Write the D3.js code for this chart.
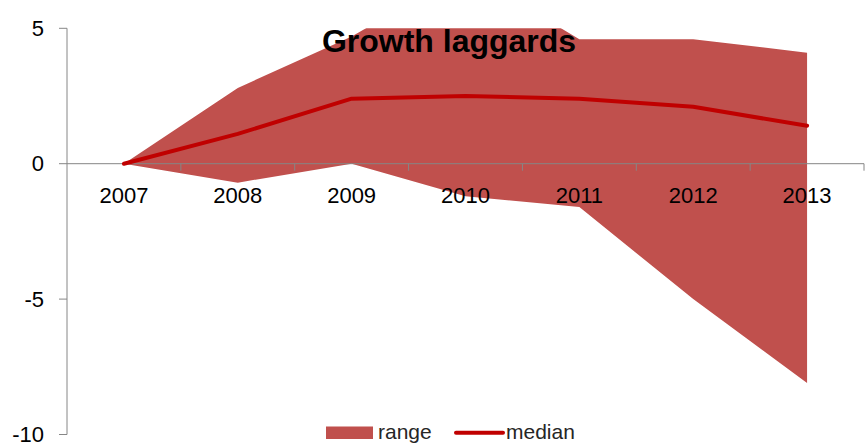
<!DOCTYPE html>
<html>
  <head>
    <script src="https://d3js.org/d3.v7.min.js"></script>
    <style>
      body { margin: 0; background: #fff; }
      text { font-family: "Liberation Sans", Arial, sans-serif; }
    </style>
  </head>
  <body>
    <script type="text/javascript">

    // years on the category axis
    var years = ["2007", "2008", "2009", "2010", "2011", "2012", "2013"];
    // top and bottom of the shaded range (values above 5 get cut by the plot area)
    var rangeHigh = [0, 2.8, 4.7, 7.1, 4.6, 4.6, 4.1];
    var rangeLow = [0, -0.7, 0, -1.2, -1.6, -5.0, -8.1];
    // median line
    var median = [0, 1.1, 2.4, 2.5, 2.4, 2.1, 1.4];
    var yTicks = [5, 0, -5, -10];

    var width = 865, height = 448;
    var axisColor = "#868686";
    var areaColor = "#c0504d";
    var lineColor = "#c00000";

    var svg = d3.select("body").append("svg")
        .attr("width", width)
        .attr("height", height);

    var x = d3.scaleBand().domain(years).range([67, 864]).padding(0);
    var y = d3.scaleLinear().domain([-10, 5]).range([434.5, 28.3]);

    function cx(d) { return x(d) + x.bandwidth() / 2; }

    var rows = years.map(function (yr, i) {
        return { year: yr, hi: rangeHigh[i], lo: rangeLow[i], med: median[i] };
    });

    // plot area clip, excel cuts the area at the top of the axis
    svg.append("clipPath").attr("id", "plotclip")
      .append("rect")
        .attr("x", 67).attr("y", y(5))
        .attr("width", 864 - 67).attr("height", y(-10) - y(5));

    // range band
    var area = d3.area()
        .x(function (d) { return cx(d.year); })
        .y0(function (d) { return y(d.lo); })
        .y1(function (d) { return y(d.hi); });

    svg.append("path")
        .datum(rows)
        .attr("clip-path", "url(#plotclip)")
        .attr("fill", areaColor)
        .attr("d", area);

    // x axis at zero, ticks between categories
    var xAxis = svg.append("g");
    xAxis.append("line")
        .attr("x1", 67).attr("x2", 864)
        .attr("y1", y(0)).attr("y2", y(0))
        .attr("stroke", axisColor);
    xAxis.selectAll(".xt")
        .data(years)
        .enter()
        .append("line")
          .attr("x1", function (d) { return x(d) + x.bandwidth(); })
          .attr("x2", function (d) { return x(d) + x.bandwidth(); })
          .attr("y1", y(0)).attr("y2", y(0) + 7)
          .attr("stroke", axisColor);
    xAxis.selectAll(".xl")
        .data(years)
        .enter()
        .append("text")
          .attr("x", cx)
          .attr("y", 203)
          .attr("text-anchor", "middle")
          .style("font-size", "22px")
          .attr("fill", "#000")
          .text(function (d) { return d; });

    // y axis
    var yAxis = svg.append("g");
    yAxis.append("line")
        .attr("x1", 67).attr("x2", 67)
        .attr("y1", y(5)).attr("y2", y(-10))
        .attr("stroke", axisColor);
    yAxis.selectAll(".yt")
        .data(yTicks)
        .enter()
        .append("line")
          .attr("x1", 59).attr("x2", 67)
          .attr("y1", function (d) { return y(d); })
          .attr("y2", function (d) { return y(d); })
          .attr("stroke", axisColor);
    yAxis.selectAll(".yl")
        .data(yTicks)
        .enter()
        .append("text")
          .attr("x", 44)
          .attr("y", function (d) { return y(d); })
          .attr("dy", "0.35em")
          .attr("text-anchor", "end")
          .style("font-size", "22px")
          .attr("fill", "#000")
          .text(function (d) { return d; });

    // median line
    var line = d3.line()
        .x(function (d) { return cx(d.year); })
        .y(function (d) { return y(d.med); });

    svg.append("path")
        .datum(rows)
        .attr("fill", "none")
        .attr("stroke", lineColor)
        .attr("stroke-width", 4)
        .attr("stroke-linecap", "round")
        .attr("stroke-linejoin", "round")
        .attr("d", line);

    // title sits on top of the area
    svg.append("text")
        .attr("x", 449)
        .attr("y", 52)
        .attr("text-anchor", "middle")
        .style("font-size", "32px")
        .style("font-weight", "bold")
        .attr("fill", "#000")
        .text("Growth laggards");

    // legend
    var legend = svg.append("g");
    legend.append("rect")
        .attr("x", 326).attr("y", 426.5)
        .attr("width", 47).attr("height", 12.5)
        .attr("fill", areaColor);
    legend.append("text")
        .attr("x", 378).attr("y", 439)
        .style("font-size", "21px")
        .attr("fill", "#262626")
        .text("range");
    legend.append("line")
        .attr("x1", 456).attr("x2", 503)
        .attr("y1", 432.7).attr("y2", 432.7)
        .attr("stroke", lineColor)
        .attr("stroke-width", 4)
        .attr("stroke-linecap", "round");
    legend.append("text")
        .attr("x", 506).attr("y", 439)
        .style("font-size", "21px")
        .attr("fill", "#262626")
        .text("median");

    </script>
  </body>
</html>
